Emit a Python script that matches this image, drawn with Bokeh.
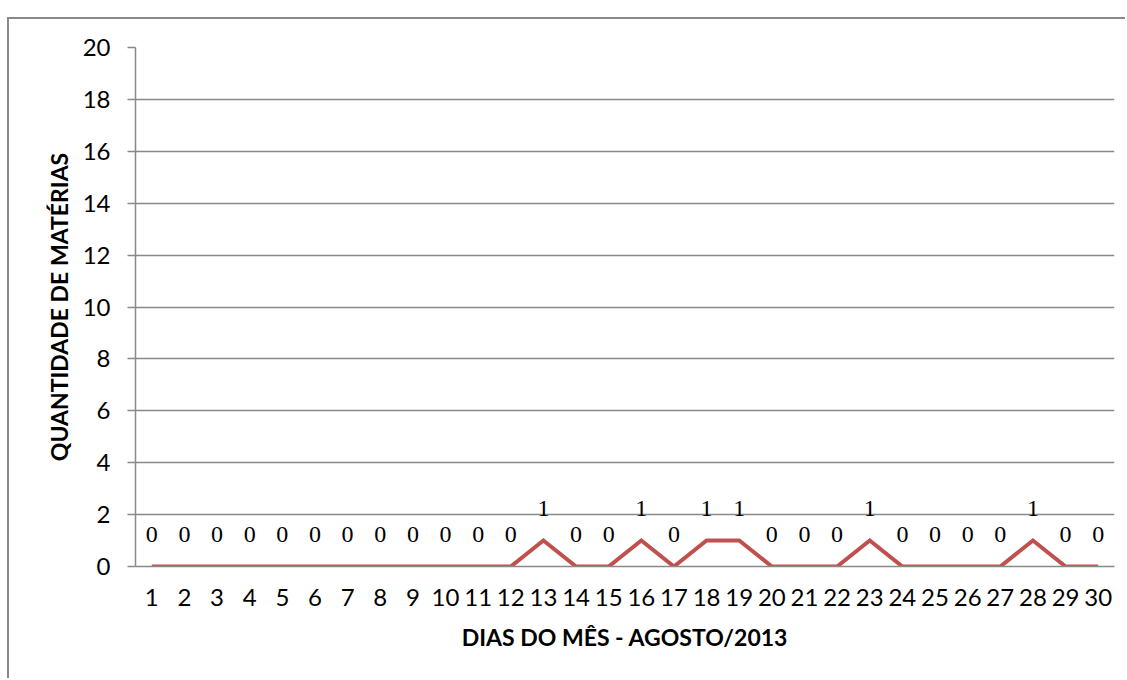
from bokeh.plotting import figure
from bokeh.models import ColumnDataSource, LabelSet, FixedTicker, Range1d
from bokeh.embed import file_html
from bokeh.resources import INLINE

days = list(range(1, 31))
materias = [0, 0, 0, 0, 0, 0, 0, 0, 0, 0, 0, 0, 1, 0, 0, 1, 0, 1, 1, 0,
            0, 0, 1, 0, 0, 0, 0, 1, 0, 0]
y_ticks = [0, 2, 4, 6, 8, 10, 12, 14, 16, 18, 20]
x_title = "DIAS DO MÊS - AGOSTO/2013"
y_title = "QUANTIDADE DE MATÉRIAS"

FONT = "Lato"
GRID = "#898989"

src = ColumnDataSource(dict(x=days, y=materias, lbl=[str(v) for v in materias]))

p = figure(width=1118, height=661, output_backend="svg", toolbar_location=None,
           x_range=Range1d(0.5, 30.5), y_range=Range1d(0, 20),
           min_border_left=126, min_border_right=13, min_border_top=28,
           min_border_bottom=114, margin=(17, 0, 0, 7))
p.styles = {"border-top": "2px solid #898989", "border-left": "2px solid #898989"}
p.outline_line_color = None
p.background_fill_color = "white"
p.border_fill_color = "white"

p.line("x", "y", source=src, line_color="#c0504d", line_width=4, line_join="miter")

labels = LabelSet(x="x", y="y", text="lbl", source=src, y_offset=25,
                  text_align="center", text_baseline="alphabetic",
                  text_font=FONT, text_font_size="24px", text_color="black")
p.add_layout(labels)

p.xaxis.ticker = FixedTicker(ticks=days)
p.yaxis.ticker = FixedTicker(ticks=y_ticks)
p.xgrid.visible = False
p.ygrid.grid_line_color = GRID
p.ygrid.grid_line_width = 1.5

for ax in (p.xaxis[0], p.yaxis[0]):
    ax.axis_line_color = GRID
    ax.axis_line_width = 1.5
    ax.major_label_text_font = FONT
    ax.major_label_text_font_size = "24px"
    ax.major_label_text_color = "black"
    ax.minor_tick_line_color = None
    ax.axis_label_text_font = FONT
    ax.axis_label_text_font_size = "23px"
    ax.axis_label_text_font_style = "bold"
    ax.axis_label_text_color = "black"

p.xaxis.major_tick_line_color = None
p.xaxis.major_tick_out = 0
p.xaxis.major_tick_in = 0
p.xaxis.major_label_standoff = 22
p.xaxis.axis_label = x_title
p.xaxis.axis_label_standoff = 14

p.yaxis.major_tick_line_color = GRID
p.yaxis.major_tick_line_width = 1.5
p.yaxis.major_tick_out = 8
p.yaxis.major_tick_in = 0
p.yaxis.major_label_standoff = 17
p.yaxis.axis_label = y_title
p.yaxis.axis_label_standoff = 7

open("out.html", "w").write(file_html(p, INLINE))
